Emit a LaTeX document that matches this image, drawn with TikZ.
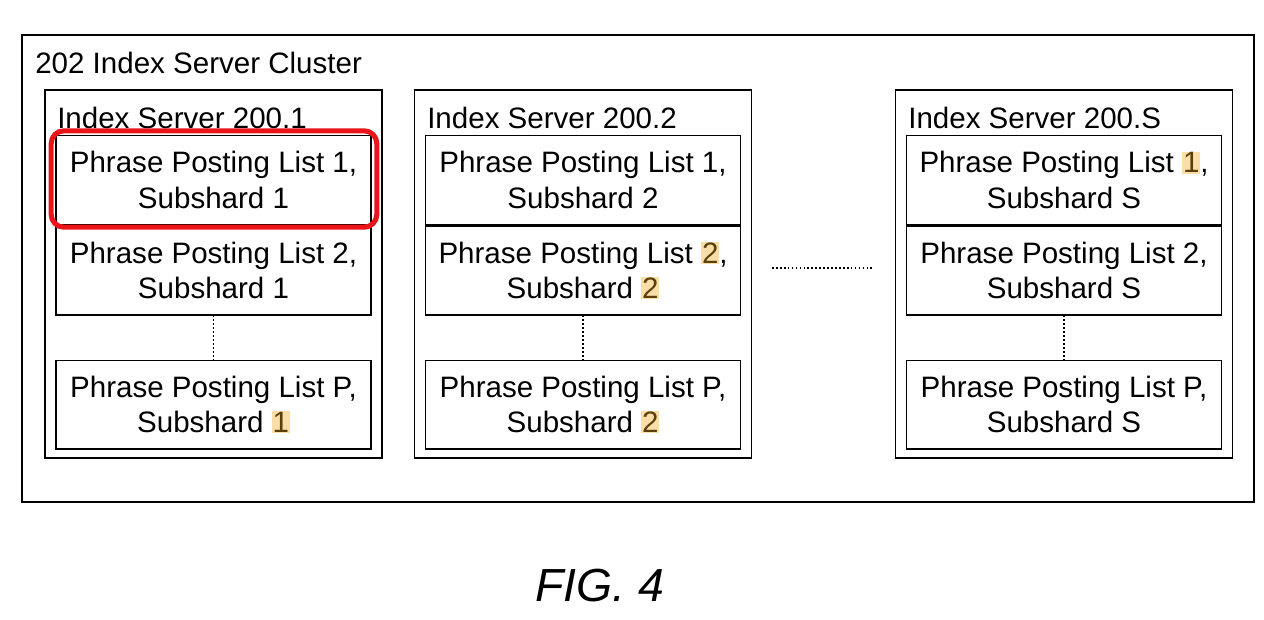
\documentclass[tikz,border=0pt]{standalone}
\usepackage{fontspec}
\setmainfont{Liberation Sans}
\usepackage{xcolor}
\usetikzlibrary{positioning,calc}

\definecolor{hlback}{RGB}{249,222,168}
\definecolor{hltext}{RGB}{92,64,12}
\definecolor{markred}{RGB}{234,20,26}
\newcommand{\hlmark}[1]{{\setlength{\fboxsep}{0.6pt}\colorbox{hlback}{\textcolor{hltext}{#1}}}}

\tikzset{
  txt/.style={font=\fontsize{21}{25}\selectfont, inner sep=0pt},
  srvbox/.style={draw, line width=1.1pt, minimum width=8.425cm, minimum height=9.2cm, inner sep=0pt},
  cell/.style={draw, line width=1.1pt, minimum width=7.875cm, minimum height=2.22cm, inner sep=0pt,
    align=center, font=\fontsize{21}{25}\selectfont},
  gapline/.style={line width=1.1pt, dash pattern=on 1.2pt off 1.6pt}
}

\begin{document}
\begin{tikzpicture}[x=0.025cm,y=-0.025cm]
\useasboundingbox (0,0) rectangle (1264,619);
% cluster
\draw[line width=1.1pt] (22,35) rectangle (1254,502);
\node[txt, anchor=base west] (cluster) at (35,73) {202 Index Server Cluster};

% servers
\node[srvbox] (srv1) at (213.5,274) {};
\node[srvbox] (srv2) at (583,274) {};
\node[srvbox] (srvS) at (1064,274) {};
\node[txt, anchor=base west] (t1) at (57,128) {Index Server 200.1};
\node[txt, anchor=base west] (t2) at (427,128) {Index Server 200.2};
\node[txt, anchor=base west] (tS) at (908,128) {Index Server 200.S};

% posting lists, server 1
\node[cell] (c11) at (213.5,180) {Phrase Posting List 1,\\Subshard 1};
\node[cell, below=0pt of c11] (c12) {Phrase Posting List 2,\\Subshard 1};
\node[cell, below=1.1cm of c12] (c1P) {Phrase Posting List P,\\Subshard \hlmark{1}};
% posting lists, server 2
\node[cell] (c21) at (583,180) {Phrase Posting List 1,\\Subshard 2};
\node[cell, below=0pt of c21] (c22) {Phrase Posting List \hlmark{2},\\Subshard \hlmark{2}};
\node[cell, below=1.1cm of c22] (c2P) {Phrase Posting List P,\\Subshard \hlmark{2}};
% posting lists, server S
\node[cell] (cS1) at (1064,180) {Phrase Posting List \hlmark{1},\\Subshard S};
\node[cell, below=0pt of cS1] (cS2) {Phrase Posting List 2,\\Subshard S};
\node[cell, below=1.1cm of cS2] (cSP) {Phrase Posting List P,\\Subshard S};

\foreach \s in {1,2,S}
  \draw[gapline] (c\s2.south) -- (c\s P.north);

% servers in between
\coordinate (gapL) at (772,268);
\coordinate (gapR) at (872,268);
\draw[gapline] (gapL) -- (gapR);

% marked list
\draw[markred, line width=3.6pt, rounded corners=9pt] ($(c11.north west)+(-4,-4)$) rectangle ($(c11.south east)+(5,2)$);

\node[font=\fontsize{33}{38}\selectfont\itshape, inner sep=0pt, anchor=base] (fig) at (600,601) {FIG. 4};
\end{tikzpicture}
\end{document}
